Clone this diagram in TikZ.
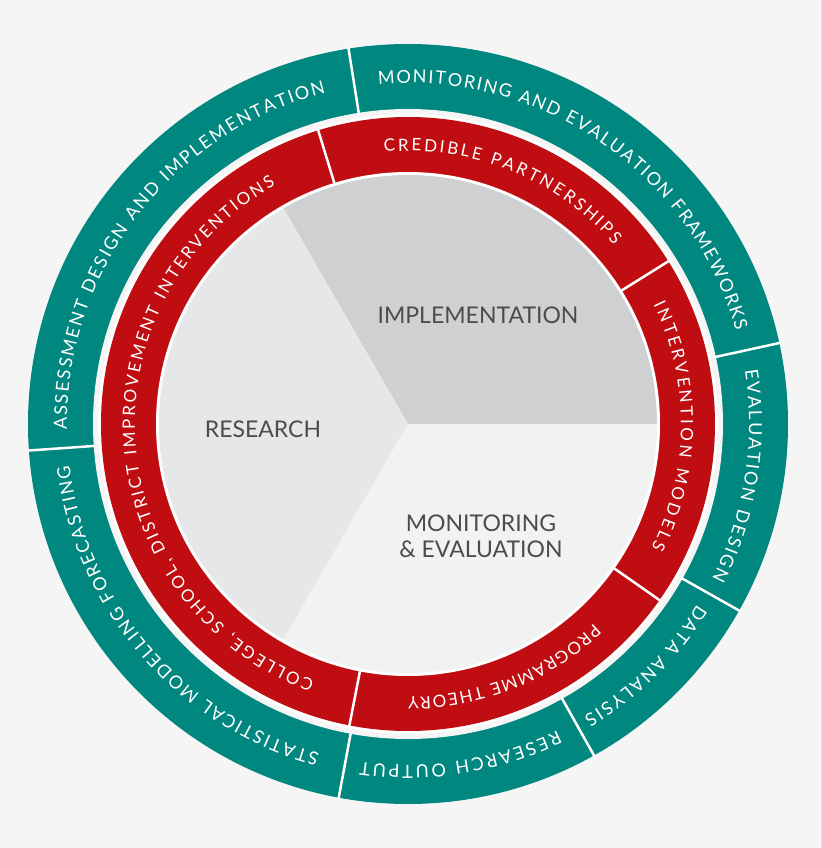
\documentclass[tikz,border=0pt]{standalone}
\usepackage{fontspec}
\setmainfont{Lato}
\usetikzlibrary{decorations.text}
\definecolor{bgpage}{HTML}{F5F5F5}
\definecolor{tealring}{HTML}{00877F}
\definecolor{redring}{HTML}{BF0D12}
\definecolor{pieA}{HTML}{CFD0D2}
\definecolor{pieB}{HTML}{E6E7E8}
\definecolor{pieC}{HTML}{F1F2F2}
\newcommand{\ringlabel}[5]{%
  \path[decorate, decoration={text along path, text align=fit to path,
    text color=white, text={|\fontsize{#5}{#5}\selectfont|#4}}]
    (#2:#1) arc[start angle=#2, end angle=#3, radius=#1];}
\tikzset{
  sep/.style={white, line width=2.5pt},
  pielabel/.style={text=black!70, font=\fontsize{23}{26}\selectfont, align=center}
}
\begin{document}
\begin{tikzpicture}[x=1pt, y=1pt]
   \fill[bgpage] (-408,-424) rectangle (412,424);
   \useasboundingbox (-408,-424) rectangle (412,424);

   % outer ring
   \fill[tealring] (0,0) circle [radius=380];
   \fill[bgpage] (0,0) circle [radius=315];
   \foreach \a in {99,184,259.5,299.3,330.6,12.3}
     \draw[sep] (\a:313) -- (\a:382);

   % red ring
   \fill[white] (0,0) circle [radius=310];
   \fill[redring] (0,0) circle [radius=307];
   \fill[white] (0,0) circle [radius=252];
   \foreach \a in {32,107,-35,-101}
     \draw[sep] (\a:250) -- (\a:309);

   % pie
   \fill[pieA] (0,0) -- (0:249) arc[start angle=0, end angle=120, radius=249] -- cycle;
   \fill[pieB] (0,0) -- (120:249) arc[start angle=120, end angle=240, radius=249] -- cycle;
   \fill[pieC] (0,0) -- (240:249) arc[start angle=240, end angle=360, radius=249] -- cycle;
   \node[pielabel] (impl) at (70,109) {IMPLEMENTATION};
   \node[pielabel] (res) at (-145,-5) {RESEARCH};
   \node[pielabel] (me) at (73,-112) {MONITORING\\\& EVALUATION};

   % outer labels
   \ringlabel{341}{95}{16}{MONITORING AND EVALUATION FRAMEWORKS}{18}
   \ringlabel{341}{181}{104}{ASSESSMENT DESIGN AND IMPLEMENTATION}{18}
   \ringlabel{341}{255}{187}{STATISTICAL MODELLING FORECASTING}{18}
   \ringlabel{341}{296}{262}{RESEARCH OUTPUT}{18}
   \ringlabel{341}{328}{301}{DATA ANALYSIS}{18}
   \ringlabel{341}{9}{-27}{EVALUATION DESIGN}{18}

   % inner labels
   \ringlabel{273}{95}{41}{CREDIBLE PARTNERSHIPS}{17}
   \ringlabel{273}{26}{-27}{INTERVENTION MODELS}{17}
   \ringlabel{273}{-47}{-90}{PROGRAMME THEORY}{17}
   \ringlabel{273}{250}{119}{COLLEGE, SCHOOL, DISTRICT IMPROVEMENT INTERVENTIONS}{17}
\end{tikzpicture}
\end{document}
